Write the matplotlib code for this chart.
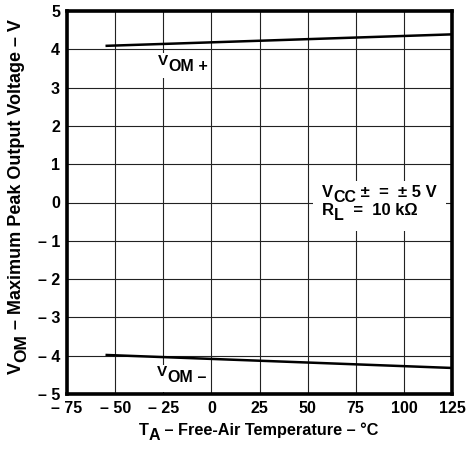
import matplotlib
matplotlib.use("Agg")
import matplotlib.pyplot as plt
from matplotlib.transforms import offset_copy
from matplotlib.patches import Rectangle

plt.rcParams['font.family'] = ['Liberation Sans', 'DejaVu Sans']
plt.rcParams['font.weight'] = 'bold'

temp = [-55, 125]
vom_pos = [4.09, 4.39]
vom_neg = [-3.98, -4.32]
xticks = [-75, -50, -25, 0, 25, 50, 75, 100, 125]
yticks = [-5, -4, -3, -2, -1, 0, 1, 2, 3, 4, 5]

def lab(v):
    return ("\u2013 %d" % -v) if v < 0 else "%d" % v

fig = plt.figure(figsize=(4.66, 4.51), dpi=100)
ax = fig.add_axes([67/466, 1 - 394/451, (452-67)/466, (394-11)/451])
ax.plot(temp, vom_pos, color='black', lw=1.8, solid_capstyle='butt', zorder=3)
ax.plot(temp, vom_neg, color='black', lw=1.8, solid_capstyle='butt', zorder=3)
ax.set_xlim(-75, 125)
ax.set_ylim(-5, 5)
ax.set_xticks(xticks)
ax.set_yticks(yticks)
ax.set_xticklabels([lab(v) for v in xticks], fontsize=11.5, fontweight='bold')
ax.set_yticklabels([lab(v) for v in yticks], fontsize=11.5, fontweight='bold')
ax.tick_params(length=0, pad=5)
ax.grid(True, color='#222222', lw=0.8)
ax.set_axisbelow(True)
for s in ax.spines.values():
    s.set_linewidth(2.6)
    s.set_zorder(4)

renderer = fig.canvas.get_renderer()

def rich(x, y, transform, segs, rotation=0, ha='left', zorder=5):
    # segs: list of (text, fontsize, drop_px)
    widths = []
    for t, fs, d in segs:
        tmp = fig.text(0, 0, t, fontsize=fs, fontweight='bold')
        widths.append(tmp.get_window_extent(renderer).width)
        tmp.remove()
    total = sum(widths)
    start = {'left': 0, 'center': -total / 2, 'right': -total}[ha]
    adv = start
    for (t, fs, d), w in zip(segs, widths):
        if rotation == 90:
            dx, dy = d, adv
        else:
            dx, dy = adv, -d
        tr = offset_copy(transform, fig=fig, x=dx, y=dy, units='dots')
        fig.text(x, y, t, fontsize=fs, fontweight='bold', transform=tr,
                 ha='left', va='baseline', rotation=rotation,
                 rotation_mode='anchor', zorder=zorder)
        adv += w

# axis labels (figure pixel coordinates)
fpx = lambda px, py: (px / 466, 1 - py / 451)
xl = fpx(259, 435)
rich(xl[0], xl[1], fig.transFigure,
     [("T", 11.7, 0), ("A", 11.5, 5), (" \u2013 Free-Air Temperature \u2013 \u00b0C", 11.7, 0)], ha='center')
yl = fpx(21, 197)
rich(yl[0], yl[1], fig.transFigure,
     [("V", 13, 0), ("OM", 12.5, 5), (" \u2013 Maximum Peak Output Voltage \u2013 V", 13, 0)],
     rotation=90, ha='center')

# white patches behind annotations
for (x0, y0, w, h) in [(-32, 3.25, 29, 0.65), (-32, -4.95, 29, 0.7), (53, -0.75, 69, 1.3)]:
    ax.add_patch(Rectangle((x0, y0), w, h, facecolor='white', edgecolor='none', zorder=2))

rich(-27.7, 3.59, ax.transData, [("V", 11, 0), ("OM", 11.5, 6), (" +", 11.5, 6)])
rich(-28.2, -4.53, ax.transData, [("V", 11, 0), ("OM", 11.5, 6), (" \u2013", 11.5, 6)])
rich(57.5, 0.15, ax.transData, [("V", 12, 0), ("CC", 11.5, 5), (" \u00b1  =  \u00b1 5 V", 12, 0)])
rich(57.5, -0.33, ax.transData, [("R", 12, 0), ("L", 11.5, 5), ("  =  10 k\u03a9", 12, 0)])

fig.savefig("out.png", dpi=100)
